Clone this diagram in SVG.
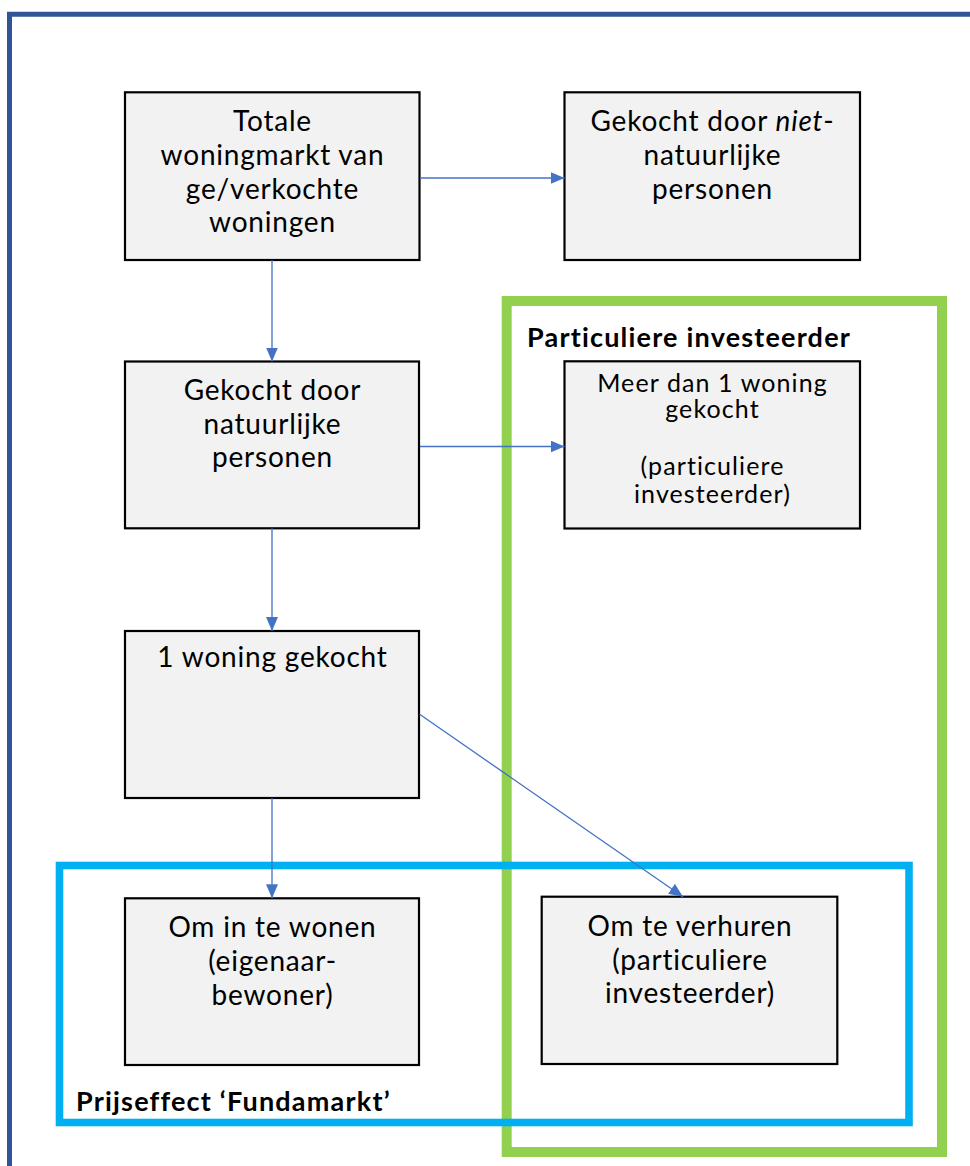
<svg xmlns="http://www.w3.org/2000/svg" width="970" height="1166" viewBox="0 0 970 1166">
<defs>
<style>
.box{fill:#F2F2F2;stroke:#000;stroke-width:2.2}
.t{font-family:Lato,"Open Sans","Liberation Sans",sans-serif;font-size:28px;letter-spacing:0.8px;fill:#000;text-anchor:middle}
.ts{font-size:25px;letter-spacing:1.1px}
.lbl{font-family:Lato,"Open Sans","Liberation Sans",sans-serif;font-size:27px;letter-spacing:1.2px;font-weight:bold;fill:#000}
.edge{stroke:#4472C4;stroke-width:1.3;fill:none;marker-end:url(#ah)}
</style>
<marker id="ah" viewBox="0 0 14 12" refX="14" refY="6" markerWidth="14" markerHeight="12" markerUnits="userSpaceOnUse" orient="auto">
<path d="M0,0 L14,6 L0,12 Z" fill="#4472C4"/>
</marker>
</defs>
<rect x="0" y="0" width="970" height="1166" fill="#fff"/>
<polyline points="9.5,1166 9.5,14.3 970,14.3" fill="none" stroke="#2F5597" stroke-width="5"/>
<g id="frame-green"><rect x="506.7" y="301" width="435.3" height="851" fill="none" stroke="#92D050" stroke-width="10"/></g>
<g id="frame-blue"><rect x="59.5" y="865.5" width="849.5" height="257" fill="none" stroke="#00B0F0" stroke-width="7.6"/></g>
<g id="n1"><rect class="box" x="125" y="92.3" width="294.5" height="167.7"/>
<text class="t"><tspan x="272.5" y="130.5">Totale</tspan><tspan x="272.5" y="165">woningmarkt van</tspan><tspan x="272.5" y="198.5">ge/verkochte</tspan><tspan x="272.5" y="232">woningen</tspan></text></g>
<g id="n2"><rect class="box" x="564.5" y="92.3" width="295.5" height="167.7"/>
<text class="t"><tspan x="712.5" y="130.5">Gekocht door <tspan font-style="italic">niet</tspan>-</tspan><tspan x="712.5" y="165">natuurlijke</tspan><tspan x="712.5" y="198.5">personen</tspan></text></g>
<g id="n3"><rect class="box" x="125" y="361.5" width="294" height="166.8"/>
<text class="t"><tspan x="272.5" y="399.5">Gekocht door</tspan><tspan x="272.5" y="433.5">natuurlijke</tspan><tspan x="272.5" y="467">personen</tspan></text></g>
<g id="n4"><rect class="box" x="564.5" y="361.3" width="295.5" height="167.2"/>
<text class="t ts"><tspan x="712.5" y="391.5">Meer dan 1 woning</tspan><tspan x="712.5" y="418">gekocht</tspan><tspan x="712.5" y="475">(particuliere</tspan><tspan x="712.5" y="502.5">investeerder)</tspan></text></g>
<g id="n5"><rect class="box" x="125" y="631" width="294" height="167"/>
<text class="t"><tspan x="272.5" y="667">1 woning gekocht</tspan></text></g>
<g id="n6"><rect class="box" x="125" y="898.3" width="294" height="166.7"/>
<text class="t"><tspan x="272.5" y="937.3">Om in te wonen</tspan><tspan x="272.5" y="970.7">(eigenaar-</tspan><tspan x="272.5" y="1004.5">bewoner)</tspan></text></g>
<g id="n7"><rect class="box" x="541.7" y="896.7" width="295.6" height="167.3"/>
<text class="t"><tspan x="690" y="935.5">Om te verhuren</tspan><tspan x="690" y="969.5">(particuliere</tspan><tspan x="690" y="1003">investeerder)</tspan></text></g>
<g id="labels">
<text class="lbl" x="527" y="347">Particuliere investeerder</text>
<text class="lbl" x="76" y="1110.5">Prijseffect ‘Fundamarkt’</text>
</g>
<g id="connectors">
<line class="edge" x1="420" y1="178" x2="564.5" y2="178"/>
<line class="edge" x1="272" y1="260" x2="272" y2="361.5"/>
<line class="edge" x1="420" y1="446.5" x2="564.5" y2="446.5"/>
<line class="edge" x1="272" y1="528.3" x2="272" y2="631"/>
<line class="edge" x1="272" y1="798" x2="272" y2="898.3"/>
<line class="edge" x1="419.6" y1="714.3" x2="683" y2="896.7"/>
</g>
</svg>
